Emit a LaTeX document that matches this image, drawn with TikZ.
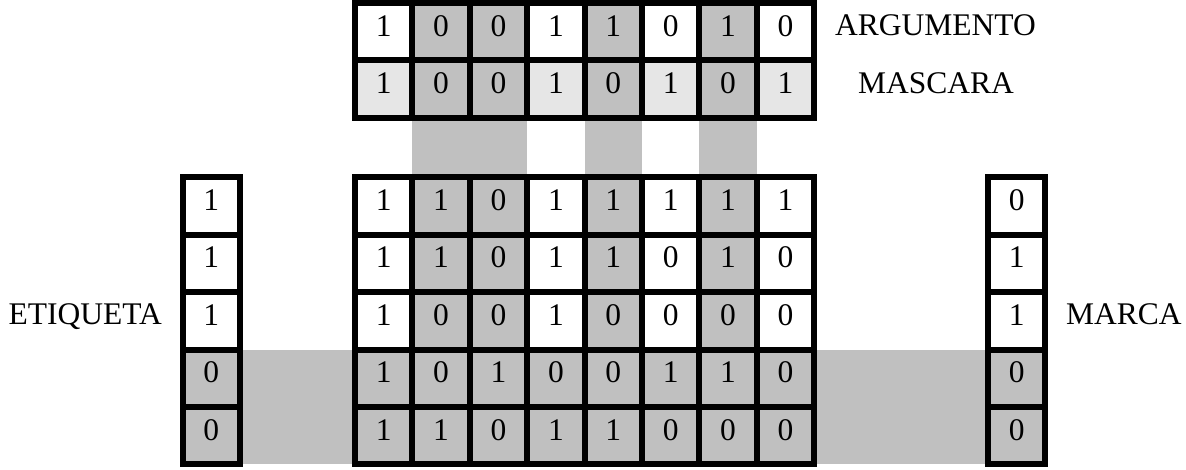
\documentclass[tikz,border=0pt]{standalone}
\usepackage{fontspec}
\setmainfont{Liberation Serif}
\usetikzlibrary{backgrounds}
\definecolor{bandgray}{RGB}{192,192,192}
\definecolor{lightgray2}{RGB}{230,230,230}
\begin{document}
\begin{tikzpicture}[x=1pt,y=-1pt,
  cell/.style={draw=black, line width=6pt, rectangle, minimum width=57.4pt, minimum height=57.4pt,
    inner sep=0pt, outer sep=0pt, text height=15pt, text depth=6pt, font=\fontsize{31.5}{36}\selectfont},
  dk/.style={cell, fill=bandgray},
  wt/.style={cell, fill=white},
  lt/.style={cell, fill=lightgray2},
  band/.style={fill=bandgray},
  lbl/.style={inner sep=0pt, font=\fontsize{31.5}{36}\selectfont}]
\useasboundingbox (0,0) rectangle (1186,470);
% ARGUMENTO row
\foreach \c/\s/\d in {1/wt/1,2/dk/0,3/dk/0,4/wt/1,5/dk/1,6/wt/0,7/dk/1,8/wt/0}
  \node[\s] (arg\c) at ({355+57.4*(\c-0.5)},31.7) {\d};
% MASCARA row
\foreach \c/\s/\d in {1/lt/1,2/dk/0,3/dk/0,4/lt/1,5/dk/0,6/lt/1,7/dk/0,8/lt/1}
  \node[\s] (mask\c) at ({355+57.4*(\c-0.5)},89.1) {\d};
% main grid
\foreach \r/\digits in {1/{1,1,0,1,1,1,1,1},2/{1,1,0,1,1,0,1,0},3/{1,0,0,1,0,0,0,0},4/{1,0,1,0,0,1,1,0},5/{1,1,0,1,1,0,0,0}}{
  \foreach \d [count=\c] in \digits {
    \pgfmathtruncatemacro\isdk{(\r>3)||(\c==2)||(\c==3)||(\c==5)||(\c==7)}
    \ifnum\isdk=1 \def\st{dk}\else\def\st{wt}\fi
    \node[\st] (m-\r-\c) at ({355+57.4*(\c-0.5)},{177.4+57.4*(\r-0.5)}) {\d};
  }
}
% ETIQUETA column
\foreach \r/\s/\d in {1/wt/1,2/wt/1,3/wt/1,4/dk/0,5/dk/0}
  \node[\s] (et\r) at (211.25,{177.4+57.4*(\r-0.5)}) {\d};
% MARCA column
\foreach \r/\s/\d in {1/wt/0,2/wt/1,3/wt/1,4/dk/0,5/dk/0}
  \node[\s] (mk\r) at (1016.75,{177.4+57.4*(\r-0.5)}) {\d};
% grey bands
\begin{pgfonlayer}{background}
  \fill[band] (mask2.south west) rectangle (m-1-3.north east);
  \fill[band] (mask5.south west) rectangle (m-1-5.north east);
  \fill[band] (mask7.south west) rectangle (m-1-7.north east);
  \fill[band] (et4.north east) rectangle (m-5-1.south west);
  \fill[band] (m-4-8.north east) rectangle (mk5.south west);
\end{pgfonlayer}
% labels
\node[lbl, anchor=base] (largumento) at (935.5,36) {ARGUMENTO};
\node[lbl, anchor=base] (lmascara) at (936,93.3) {MASCARA};
\node[lbl, anchor=base east] (letiqueta) at (162,324) {ETIQUETA};
\node[lbl, anchor=base west] (lmarca) at (1066,325) {MARCA};
\end{tikzpicture}
\end{document}
